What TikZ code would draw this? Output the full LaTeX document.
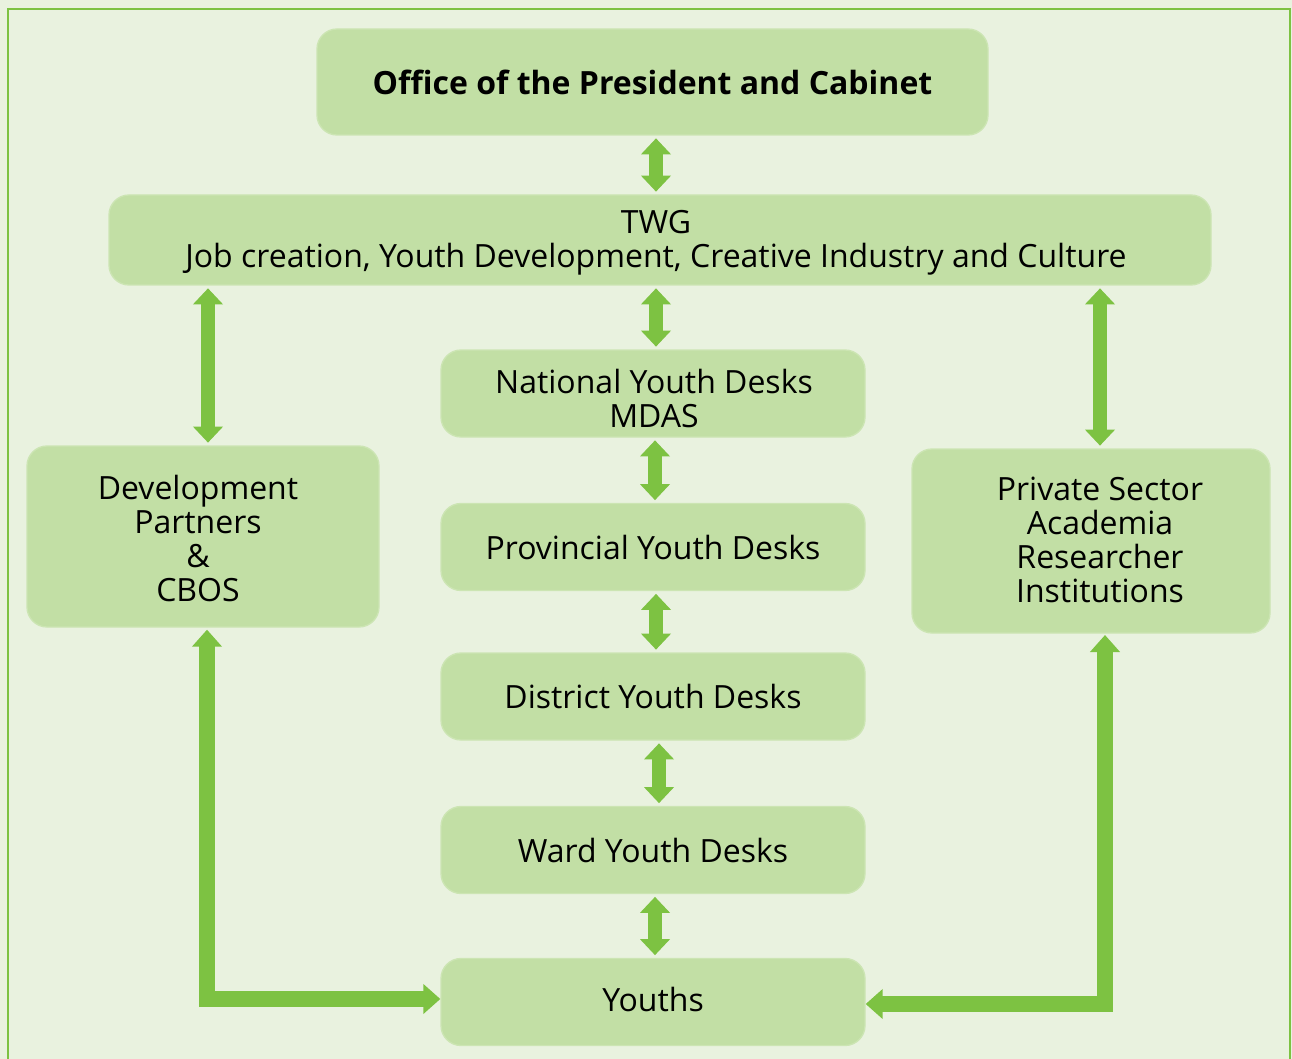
\documentclass[tikz,border=0pt]{standalone}
\usepackage{fontspec}
\setmainfont{Open Sans}
\usetikzlibrary{arrows.meta}
\definecolor{bgc}{HTML}{E9F2DF}
\definecolor{boxc}{HTML}{C2DFA5}
\definecolor{boxl}{HTML}{CCE5B3}
\definecolor{arrc}{HTML}{7DC242}
\tikzset{
  box/.style={rectangle, rounded corners=15pt, fill=boxc, draw=boxl, line width=1pt,
    inner sep=0pt, align=center, font=\fontsize{24}{26}\selectfont},
  txt/.style={inner sep=0pt, align=center, font=\fontsize{24}{25.5}\selectfont},
  dbl/.style={draw=arrc, line width=10.5pt, shorten <=2pt, shorten >=2pt,
    {Triangle[width=21.75pt,length=12pt]}-{Triangle[width=21.75pt,length=12pt]}},
  ell/.style={draw=arrc, line width=12pt, miter limit=10, line join=miter,
    {Triangle[width=21.75pt,length=12.75pt]}-{Triangle[width=21.75pt,length=12.75pt]}}
}
\begin{document}
\begin{tikzpicture}[x=0.75pt,y=-0.75pt]
\useasboundingbox (0,0) rectangle (1292,1059);
\fill[bgc] (0,0) rectangle (1292,1059);
\draw[arrc, line width=1.5pt] (8,1070) -- (8,9) -- (1290,9) -- (1290,1070);

\node[box, minimum width=503.25pt, minimum height=79.5pt, font=\fontsize{24}{26}\selectfont\bfseries] (office) at (652.5,82) {Office of the President and Cabinet};
\node[box, minimum width=826.5pt, minimum height=67.5pt] (twg) at (660,240) {};
\node[txt] (twgt) at (656,242.5) {TWG\\Job creation, Youth Development, Creative Industry and Culture};
\node[box, minimum width=318pt, minimum height=65.25pt] (nat) at (653,393.5) {};
\node[txt] (natt) at (654,398) {National Youth Desks\\MDAS};
\node[box, minimum width=318pt, minimum height=65.25pt] (prov) at (653,547) {Provincial Youth Desks};
\node[box, minimum width=318pt, minimum height=65.25pt] (dist) at (653,696.5) {District Youth Desks};
\node[box, minimum width=318pt, minimum height=65.25pt] (ward) at (653,850) {Ward Youth Desks};
\node[box, minimum width=318pt, minimum height=65.25pt] (youth) at (653,1002) {};
\node[txt] (youtht) at (653,999) {Youths};
\node[box, minimum width=264pt, minimum height=135.75pt] (dev) at (203,536.5) {};
\node[txt] (devt) at (198,538) {Development\\Partners\\\&\\CBOS};
\node[box, minimum width=268.5pt, minimum height=138pt] (priv) at (1091,541) {};
\node[txt] (privt) at (1100,540) {Private Sector\\Academia\\Researcher\\Institutions};

\coordinate (x656) at (656,0);
\coordinate (x208) at (208,0);
\coordinate (x1100) at (1100,0);
\coordinate (x655) at (655,0);
\coordinate (x659) at (659,0);
\coordinate (x207) at (207,0);
\coordinate (x1105) at (1105,0);
\coordinate (yL) at (0,999);
\coordinate (yR) at (0,1004);

\draw[dbl] (office.south -| x656) -- (twg.north -| x656);
\draw[dbl] (twg.south -| x208) -- (dev.north -| x208);
\draw[dbl] (twg.south -| x656) -- (nat.north -| x656);
\draw[dbl] (twg.south -| x1100) -- (priv.north -| x1100);
\draw[dbl] (nat.south -| x655) -- (prov.north -| x655);
\draw[dbl] (prov.south -| x656) -- (dist.north -| x656);
\draw[dbl] (dist.south -| x659) -- (ward.north -| x659);
\draw[dbl] (ward.south -| x655) -- (youth.north -| x655);

\draw[ell, shorten <=1.5pt]
  (dev.south -| x207) -- (x207 |- yL) -- (youth.west |- yL);
\draw[ell, shorten <=1pt]
  (priv.south -| x1105) -- (x1105 |- yR) -- (youth.east |- yR);
\end{tikzpicture}
\end{document}
